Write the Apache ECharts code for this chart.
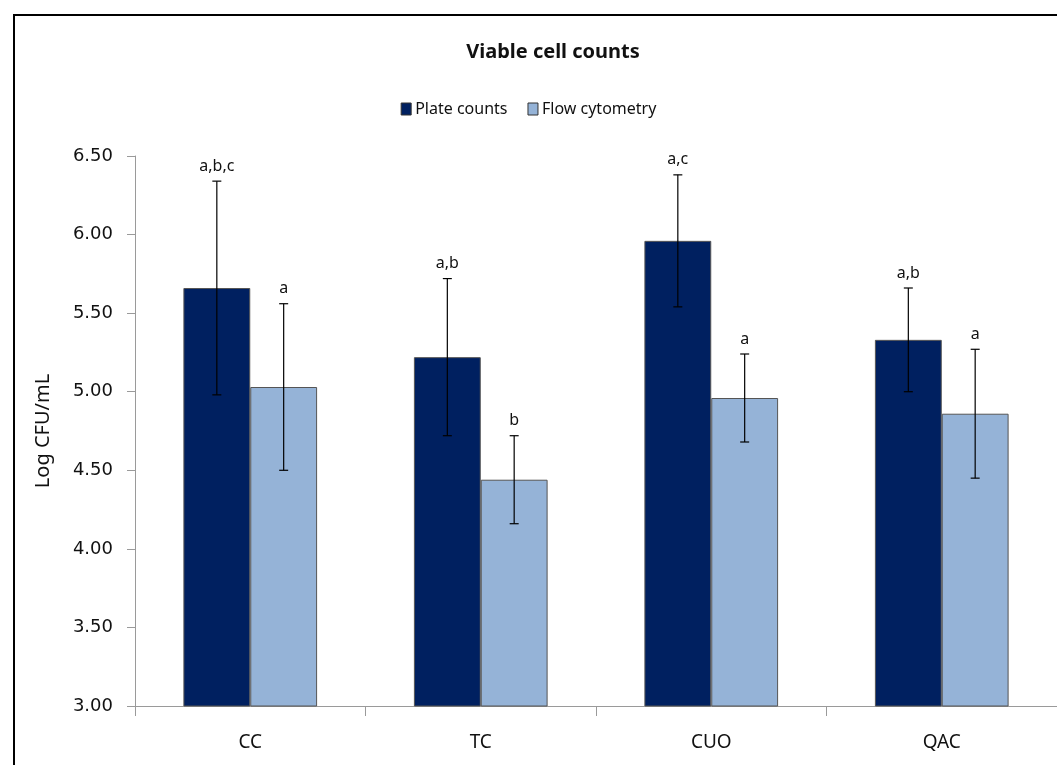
<!DOCTYPE html>
<html>
<head>
<meta charset="utf-8">
<script src="https://cdn.jsdelivr.net/npm/echarts@6/dist/echarts.min.js"></script>
<style>
html,body{margin:0;padding:0;background:#fff;}
#chart{width:1057px;height:765px;}
</style>
</head>
<body>
<div id="chart"></div>
<script>
var categories = ['CC', 'TC', 'CUO', 'QAC'];
var plateCounts = [5.66, 5.22, 5.96, 5.33];
var plateErr = [0.68, 0.50, 0.42, 0.33];
var plateLetters = ['a,b,c', 'a,b', 'a,c', 'a,b'];
var flowCounts = [5.03, 4.44, 4.96, 4.86];
var flowErr = [0.53, 0.28, 0.28, 0.41];
var flowLetters = ['a', 'b', 'a', 'a'];
var yTicks = [3.0, 3.5, 4.0, 4.5, 5.0, 5.5, 6.0, 6.5];

var CAT_GAP = 0.42; // barCategoryGap fraction
var txtFont = '"Noto Sans", "Open Sans", sans-serif';

function errData(vals, errs, letters) {
  return vals.map(function (v, i) { return [i, v - errs[i], v + errs[i], letters[i]]; });
}

function makeErrRender(side) {
  return function (params, api) {
    var idx = api.value(0);
    var lo = api.coord([idx, api.value(1)]);
    var hi = api.coord([idx, api.value(2)]);
    var catW = api.size([1, 0])[0];
    var barW = catW * (1 - CAT_GAP) / 2;
    var x = lo[0] + side * barW / 2;
    var cap = 4.5;
    var st = { stroke: '#000', lineWidth: 1.2 };
    return {
      type: 'group',
      children: [
        { type: 'line', shape: { x1: x, y1: hi[1], x2: x, y2: lo[1] }, style: st },
        { type: 'line', shape: { x1: x - cap, y1: hi[1], x2: x + cap, y2: hi[1] }, style: st },
        { type: 'line', shape: { x1: x - cap, y1: lo[1], x2: x + cap, y2: lo[1] }, style: st },
        { type: 'text', style: { x: x, y: hi[1] - 7, text: api.value(3), textAlign: 'center', textVerticalAlign: 'bottom',
            fill: '#111', font: '16px ' + txtFont } }
      ]
    };
  };
}

var chart = echarts.init(document.getElementById('chart'));
chart.setOption({
  animation: false,
  backgroundColor: '#fff',
  title: {
    text: 'Viable cell counts', left: 548, top: 37, textAlign: 'center',
    textStyle: { fontFamily: txtFont, fontWeight: 'bold', fontSize: 20, color: '#111' }
  },
  legend: {
    left: 'center', top: 96, itemWidth: 10, itemHeight: 12, itemGap: 20, icon: 'rect',
    data: ['Plate counts', 'Flow cytometry'],
    itemStyle: { borderColor: '#333', borderWidth: 1 },
    textStyle: { fontFamily: txtFont, fontSize: 16, color: '#111', padding: [0, 0, 0, -1] }
  },
  graphic: [{
    type: 'rect', shape: { x: 14, y: 15, width: 1100, height: 800 },
    style: { fill: 'none', stroke: '#000', lineWidth: 2 }, silent: true, z: 100
  }],
  grid: { left: 135, top: 156, width: 928, height: 550 },
  xAxis: {
    type: 'category', data: categories,
    axisLine: { lineStyle: { color: '#9a9a9a', width: 1 } },
    axisTick: { show: true, length: 10, lineStyle: { color: '#9a9a9a' } },
    axisLabel: { margin: 27, fontFamily: txtFont, fontSize: 19, color: '#111' }
  },
  yAxis: {
    type: 'value', min: 3, max: 6.5, interval: 0.5,
    name: 'Log CFU/mL', nameLocation: 'middle', nameGap: 82, nameRotate: 90,
    nameTextStyle: { fontFamily: txtFont, fontSize: 20, color: '#111' },
    axisLine: { show: true, lineStyle: { color: '#9a9a9a', width: 1 } },
    axisTick: { show: true, length: 8, lineStyle: { color: '#9a9a9a' } },
    splitLine: { show: false },
    axisLabel: {
      margin: 22, fontFamily: '"DejaVu Sans", sans-serif', fontSize: 18, color: '#111',
      customValues: yTicks,
      formatter: function (v) { return v.toFixed(2); }
    }
  },
  series: [
    {
      name: 'Plate counts', type: 'bar', data: plateCounts, barGap: '0%', barCategoryGap: (CAT_GAP * 100) + '%',
      itemStyle: { color: '#002060', borderColor: '#555', borderWidth: 1 }
    },
    {
      name: 'Flow cytometry', type: 'bar', data: flowCounts, barGap: '0%', barCategoryGap: (CAT_GAP * 100) + '%',
      itemStyle: { color: '#95B3D7', borderColor: '#555', borderWidth: 1 }
    },
    {
      type: 'custom', renderItem: makeErrRender(-1), data: errData(plateCounts, plateErr, plateLetters),
      encode: { x: 0, y: [1, 2] }, z: 10, silent: true
    },
    {
      type: 'custom', renderItem: makeErrRender(1), data: errData(flowCounts, flowErr, flowLetters),
      encode: { x: 0, y: [1, 2] }, z: 10, silent: true
    }
  ]
});
</script>
</body>
</html>
